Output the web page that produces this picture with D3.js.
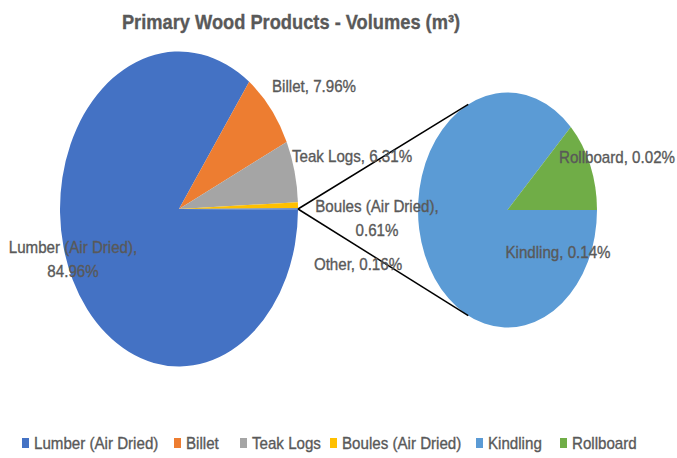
<!DOCTYPE html>
<html>
<head>
<meta charset="utf-8">
<script src="https://cdn.jsdelivr.net/npm/d3@7"></script>
<style>
  body { margin: 0; background: #fff; }
  text { font-family: "Liberation Sans", Arial, sans-serif; fill: #595959; stroke: #595959; stroke-width: 0.35px; }
</style>
</head>
<body>
<div id="chart"></div>
<script>
// main pie data (percent of total volume)
var mainNames = ["Lumber (Air Dried)", "Billet", "Teak Logs", "Boules (Air Dried)", "Other"];
var mainValues = [84.96, 7.96, 6.31, 0.61, 0.16];
// secondary pie = the "Other" slice split up
var subNames = ["Kindling", "Rollboard"];
var subValues = [0.14, 0.02];
var legendNames = ["Lumber (Air Dried)", "Billet", "Teak Logs", "Boules (Air Dried)", "Kindling", "Rollboard"];
var colors = {
    "Lumber (Air Dried)": "#4472C4",
    "Billet": "#ED7D31",
    "Teak Logs": "#A5A5A5",
    "Boules (Air Dried)": "#FFC000",
    "Other": "#4472C4",
    "Kindling": "#5B9BD5",
    "Rollboard": "#70AD47"
};

var width = 677, height = 458;
var SQUEEZE = 0.89; // text in the reference is narrow

// pies are drawn squashed horizontally, like the reference
var MAIN = { cx: 179, cy: 209, rx: 119, ry: 157.5 },
    SUB = { cx: 507.5, cy: 210, rx: 89.5, ry: 117.5 };

var svg = d3.select("#chart").append("svg")
    .attr("width", width)
    .attr("height", height);

function narrowText(parent, x, y, sx) {
    return parent.append("text")
        .attr("transform", "translate(" + x + "," + y + ") scale(" + sx + ",1)");
}

narrowText(svg, 291, 29, 0.87)
    .attr("text-anchor", "middle")
    .style("font-size", "21px")
    .style("font-weight", "bold")
    .text("Primary Wood Products - Volumes (m\u00b3)");

var otherShare = mainValues[mainValues.length - 1] / d3.sum(mainValues) * 2 * Math.PI;
var mainStart = Math.PI / 2 + otherShare / 2;

var mainPie = d3.pie().sort(null)
    .startAngle(mainStart)
    .endAngle(mainStart + 2 * Math.PI);
var subPie = d3.pie().sort(null)
    .startAngle(Math.PI / 2)
    .endAngle(Math.PI / 2 + 2 * Math.PI);

function drawPie(p, names, values, pie) {
    var arc = d3.arc().innerRadius(0).outerRadius(p.ry);
    var g = svg.append("g")
        .attr("transform", "translate(" + p.cx + "," + p.cy + ") scale(" + (p.rx / p.ry) + ",1)");
    g.selectAll("path")
        .data(pie(values))
        .enter().append("path")
        .attr("d", arc)
        .attr("fill", function (d, i) { return colors[names[i]]; });
}

drawPie(MAIN, mainNames, mainValues, mainPie);
drawPie(SUB, subNames, subValues, subPie);

// connector lines from the "Other" slice to the secondary pie
function onEllipse(p, a) {
    return [p.cx + p.rx * Math.sin(a), p.cy - p.ry * Math.cos(a)];
}
var joint = onEllipse(MAIN, Math.PI / 2);
var tipAngle = 26 / 180 * Math.PI;
[-tipAngle, Math.PI + tipAngle].forEach(function (a) {
    var e = onEllipse(SUB, a);
    svg.append("line")
        .attr("x1", joint[0]).attr("y1", joint[1])
        .attr("x2", e[0]).attr("y2", e[1])
        .attr("stroke", "#000")
        .attr("stroke-width", 1.5);
});

// data labels
var labelPos = [
    { lines: [mainNames[1] + ", " + mainValues[1].toFixed(2) + "%"], x: 314, y: 92 },
    { lines: [mainNames[2] + ", " + mainValues[2].toFixed(2) + "%"], x: 352, y: 162 },
    { lines: [mainNames[3] + ",", mainValues[3].toFixed(2) + "%"], x: 377, y: 212 },
    { lines: [mainNames[4] + ", " + mainValues[4].toFixed(2) + "%"], x: 358, y: 270 },
    { lines: [mainNames[0] + ",", mainValues[0].toFixed(2) + "%"], x: 73, y: 253 },
    { lines: [subNames[1] + ", " + subValues[1].toFixed(2) + "%"], x: 617, y: 163 },
    { lines: [subNames[0] + ", " + subValues[0].toFixed(2) + "%"], x: 558, y: 258 }
];

labelPos.forEach(function (l) {
    var t = narrowText(svg, l.x, l.y, SQUEEZE)
        .attr("text-anchor", "middle")
        .style("font-size", "17px");
    l.lines.forEach(function (s, i) {
        t.append("tspan")
            .attr("x", 0)
            .attr("y", i * 24.5)
            .text(s);
    });
});

// legend
var legendX = [22, 174, 240, 330, 476, 560];
var legend = svg.append("g").selectAll("g")
    .data(legendNames)
    .enter().append("g")
    .attr("transform", function (d, i) { return "translate(" + legendX[i] + ",443)"; });
legend.append("rect")
    .attr("x", 0).attr("y", -5)
    .attr("width", 7).attr("height", 10)
    .attr("fill", function (d) { return colors[d]; });
legend.each(function () {
    narrowText(d3.select(this), 12, 6, SQUEEZE)
        .style("font-size", "17px")
        .text(function (d) { return d; });
});
</script>
</body>
</html>
